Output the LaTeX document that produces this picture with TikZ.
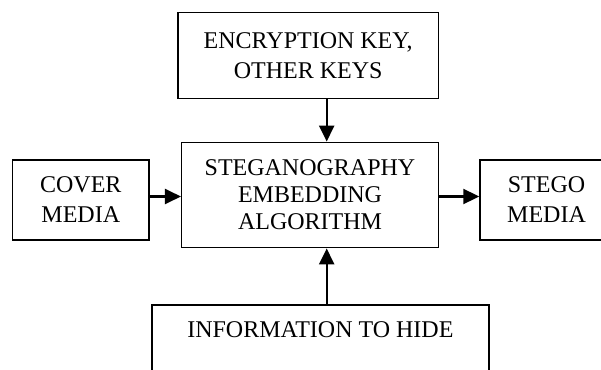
\documentclass[tikz,border=0pt]{standalone}
\usepackage{fontspec}
\setmainfont{Liberation Serif}
\usetikzlibrary{arrows.meta}
\begin{document}
\begin{tikzpicture}[x=1pt,y=-1pt,
  box/.style={draw=black, line width=1.5pt, inner sep=0pt, align=center},
  lbl/.style={inner sep=0pt, align=center},
  conn/.style={line width=2.3pt, -{Triangle[length=16pt,width=15pt]}},
  font=\fontsize{24}{30}\selectfont]
\useasboundingbox (0,0) rectangle (601,369);
\clip (0,0) rectangle (601,369);
\node[box, minimum width=260.3pt, minimum height=86pt] (keys) at (308.2,55.7) {ENCRYPTION KEY,\\OTHER KEYS};
\node[box, minimum width=256.6pt, minimum height=105.4pt, font=\fontsize{24}{27}\selectfont] (algo) at (310,195) {STEGANOGRAPHY\\EMBEDDING\\ALGORITHM};
\node[box, minimum width=136.3pt, minimum height=80pt] (cover) at (80.8,200) {COVER\\MEDIA};
\node[box, minimum width=133pt, minimum height=80pt] (stego) at (546.5,200) {STEGO\\MEDIA};
\node[box, minimum width=337.3pt, minimum height=100pt, anchor=north] (info) at (320.4,304.3) {};
\node[lbl, anchor=base] (infotext) at (320.4,337.7) {INFORMATION TO HIDE};
\coordinate (kt) at (326.7,0);
\draw[conn] (keys.south -| kt) -- (algo.north -| kt);
\draw[conn] (info.north -| kt) -- (algo.south -| kt);
\coordinate (hy) at (0,196.5);
\draw[conn] (cover.east |- hy) -- (algo.west |- hy);
\draw[conn] (algo.east |- hy) -- (stego.west |- hy);
\end{tikzpicture}
\end{document}
